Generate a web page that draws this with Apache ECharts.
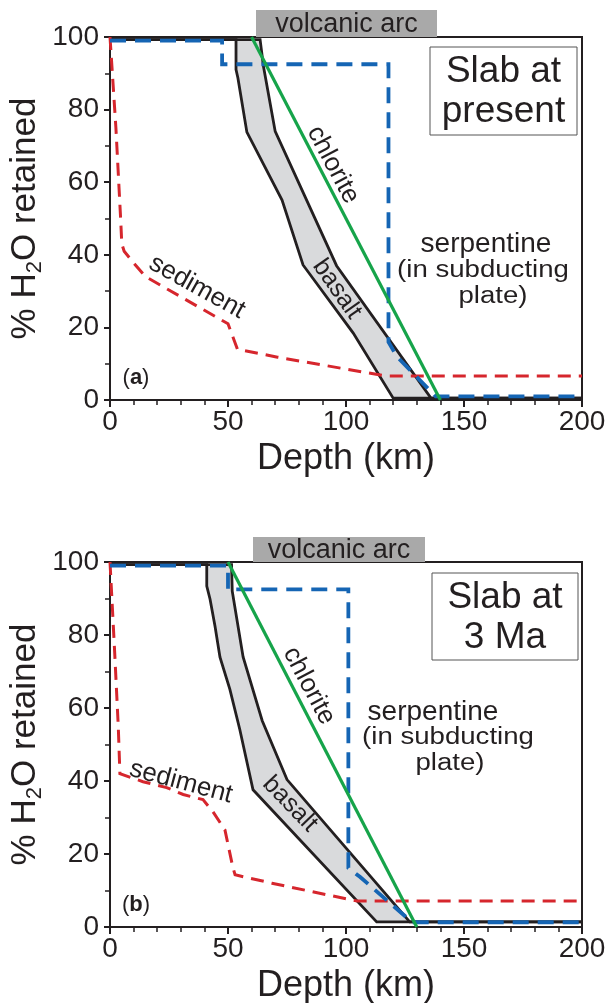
<!DOCTYPE html>
<html>
<head>
<meta charset="utf-8">
<script src="https://cdn.jsdelivr.net/npm/echarts@6/dist/echarts.min.js"></script>
<style>
  html, body { margin: 0; padding: 0; background: #fff; }
  #chart { width: 611px; height: 1003px; }
</style>
</head>
<body>
<div id="chart"></div>
<script>
// Slab dehydration: % H2O retained versus depth (km)

const depthTicks = [0, 50, 100, 150, 200];
const waterTicks = [0, 20, 40, 60, 80, 100];

// (a) slab at present
const sedimentPresent = [[0,100],[2.5,75],[4.5,50],[5,43],[6,41],[9.7,38],[15,34],[50,21],[54,14],[71,11.8],[117,6.6],[200,6.6]];
const serpentinePresent = [[0,99],[47.5,99],[47.5,92.5],[118,92.5],[118,16],[121.5,12],[138,1],[200,1]];
const chloritePresent = [[60,100],[140,0]];
const basaltPresentLeft = [[0,99.3],[53.4,99.3],[53.4,91],[54.2,88.7],[58,73.8],[72.9,55.1],[81.8,37.2],[103,18.5],[120,0.5],[200,0.5]];
const basaltPresentRight = [[0,99.3],[63.6,99.3],[65,92],[70,74],[96,37],[136,0.5],[200,0.5]];

// (b) slab at 3 Ma
const sediment3Ma = [[0,100],[2,75],[3.5,55],[4.2,42],[14,39.8],[24,38.2],[31,36.3],[39.4,34.9],[43.6,31.6],[48.7,26.6],[52,16.5],[53,14.3],[68.6,12],[104.7,7.1],[200,7.1]];
const serpentine3Ma = [[0,99],[50,99],[50,92.5],[101,92.5],[101,16.2],[106,13.7],[128,1.3],[200,1.3]];
const chlorite3Ma = [[50,100],[130,0]];
const basalt3MaLeft = [[0,99.3],[41,99.3],[41,93.4],[42.4,89.8],[44.5,82.4],[46.6,73.9],[50.8,65.1],[55,54.1],[60.6,37.6],[113,1.4],[200,1.4]];
const basalt3MaRight = [[0,99.3],[51.5,99.3],[51.8,92],[56.4,74],[64.5,56.5],[75,40.4],[127,1.4],[200,1.4]];

const FONT = '"Liberation Sans", Arial, Helvetica, sans-serif';
const INK = '#231f20';
const RED = '#d6262d';
const BLUE = '#1565b4';
const GREEN = '#16a44a';
const BAND = '#d9dadc';

const grids = [
  { left: 110, top: 37, width: 472, height: 363 },
  { left: 110, top: 562, width: 472, height: 365 }
];

function mainX(g) {
  return {
    type: 'value', gridIndex: g, min: depthTicks[0], max: depthTicks[depthTicks.length - 1],
    interval: depthTicks[1] - depthTicks[0],
    axisLine: { lineStyle: { color: INK, width: 2 } },
    axisTick: { length: 7, lineStyle: { color: INK, width: 2 } },
    axisLabel: { fontSize: 28, color: INK, fontFamily: FONT, margin: 8 },
    splitLine: { show: false },
    name: 'Depth (km)', nameLocation: 'middle', nameGap: 41, nameMoveOverlap: false,
    nameTextStyle: { fontSize: 36, color: INK, fontFamily: FONT }
  };
}
function minorX(g) {
  return {
    type: 'value', gridIndex: g, min: 0, max: 200, interval: 10,
    axisLine: { show: false }, axisLabel: { show: false }, splitLine: { show: false },
    axisTick: { inside: true, length: 5, lineStyle: { color: INK, width: 1.5 } }
  };
}
function mainY(g) {
  return {
    type: 'value', gridIndex: g, min: waterTicks[0], max: waterTicks[waterTicks.length - 1],
    interval: waterTicks[1] - waterTicks[0],
    axisLine: { lineStyle: { color: INK, width: 2 } },
    axisTick: { length: 6, lineStyle: { color: INK, width: 2 } },
    axisLabel: { fontSize: 28, color: INK, fontFamily: FONT, margin: 11 },
    splitLine: { show: false },
    name: '% H{s|2}O retained', nameLocation: 'middle', nameGap: 64, nameMoveOverlap: false,
    nameTextStyle: {
      fontSize: 35, color: INK, fontFamily: FONT,
      rich: { s: { fontSize: 22, color: INK, fontFamily: FONT, padding: [20, 0, 0, 0] } }
    }
  };
}
function minorY(g) {
  return {
    type: 'value', gridIndex: g, min: 0, max: 100, interval: 10,
    axisLine: { show: false }, axisLabel: { show: false }, splitLine: { show: false },
    axisTick: { inside: true, length: 5, lineStyle: { color: INK, width: 1.5 } }
  };
}

function bandSeries(left, right, ax) {
  const poly = left.concat(right.slice().reverse());
  return {
    type: 'custom', xAxisIndex: ax, yAxisIndex: ax, data: poly, encode: { x: 0, y: 1 },
    z: 1, silent: true, clip: false,
    renderItem: function (params, api) {
      if (params.dataIndex !== 0) return null;
      return { type: 'polygon', shape: { points: poly.map(p => api.coord(p)) }, style: { fill: BAND } };
    }
  };
}
function lineSeries(data, ax, color, width, dash, z) {
  return {
    type: 'line', xAxisIndex: ax, yAxisIndex: ax, data: data, symbol: 'none', z: z,
    lineStyle: { color: color, width: width, type: dash || 'solid', cap: 'butt', join: 'miter' },
    silent: true
  };
}
function panelSeries(sed, serp, chl, bl, br, ax) {
  return [
    bandSeries(bl, br, ax),
    lineSeries(bl, ax, INK, 2.8, null, 2),
    lineSeries(br, ax, INK, 2.8, null, 2),
    lineSeries(sed, ax, RED, 3, [13, 8], 3),
    lineSeries(serp, ax, BLUE, 3.8, [16, 9], 4),
    lineSeries(chl, ax, GREEN, 3.2, null, 5)
  ];
}

function label(x, y, text, size, rot, sx) {
  return {
    type: 'text', x: x, y: y, rotation: (rot || 0) * Math.PI / 180, scaleX: sx || 1, z: 100,
    style: { text: text, fontSize: size, fontFamily: FONT, fill: INK, align: 'center', verticalAlign: 'middle' }
  };
}
function arcBox(x, y, w, h) {
  return [
    { type: 'rect', shape: { x: x, y: y, width: w, height: h }, style: { fill: '#a9a9a9' }, z: 90 },
    label(x + w / 2, y + h / 2 + 1, 'volcanic arc', 27)
  ];
}
function slabBox(x, y, w, h, l1, l2) {
  return [
    { type: 'rect', shape: { x: x, y: y, width: w, height: h }, style: { fill: '#fff', stroke: '#555', lineWidth: 1 }, z: 90 },
    label(x + w / 2, y + h * 0.28, l1, 37),
    label(x + w / 2, y + h * 0.74, l2, 37)
  ];
}
function panelTag(x, y, letter) {
  return {
    type: 'text', x: x, y: y, z: 100,
    style: {
      text: '{n|(}{b|' + letter + '}{n|)}', align: 'center', verticalAlign: 'middle',
      rich: {
        n: { fontSize: 22, fontFamily: FONT, fill: INK },
        b: { fontSize: 22, fontFamily: FONT, fill: INK, fontWeight: 'bold' }
      }
    }
  };
}

const graphics = [].concat(
  arcBox(256, 10, 181, 27),
  slabBox(430, 47, 147, 88, 'Slab at', 'present'),
  [
    label(333, 165, 'chlorite', 26, -62),
    label(337, 289, 'basalt', 25, -55),
    label(197, 287, 'sediment', 26, -29),
    label(486, 244, 'serpentine', 28),
    label(483, 271, '(in subducting', 23, 0, 1.2),
    label(493, 297, 'plate)', 23, 0, 1.2),
    panelTag(136, 378, 'a')
  ],
  arcBox(253, 537, 172, 25),
  slabBox(432, 573, 146, 87, 'Slab at', '3 Ma'),
  [
    label(309, 686, 'chlorite', 26, -62),
    label(290, 804, 'basalt', 25, -46),
    label(181, 782, 'sediment', 26, -15),
    label(433, 712, 'serpentine', 28),
    label(448, 738, '(in subducting', 23, 0, 1.2),
    label(450, 764, 'plate)', 23, 0, 1.2),
    panelTag(136, 905, 'b')
  ]
);

const chart = echarts.init(document.getElementById('chart'), null, { renderer: 'canvas' });
chart.setOption({
  animation: false,
  backgroundColor: '#fff',
  grid: grids.map(g => Object.assign({
    show: true, borderColor: INK, borderWidth: 2, backgroundColor: 'transparent',
    containLabel: false, outerBoundsMode: 'none'
  }, g)),
  xAxis: [mainX(0), minorX(0), mainX(1), minorX(1)],
  yAxis: [mainY(0), minorY(0), mainY(1), minorY(1)],
  series: [].concat(
    panelSeries(sedimentPresent, serpentinePresent, chloritePresent, basaltPresentLeft, basaltPresentRight, 0),
    panelSeries(sediment3Ma, serpentine3Ma, chlorite3Ma, basalt3MaLeft, basalt3MaRight, 2)
  ),
  graphic: graphics
});
</script>
</body>
</html>
